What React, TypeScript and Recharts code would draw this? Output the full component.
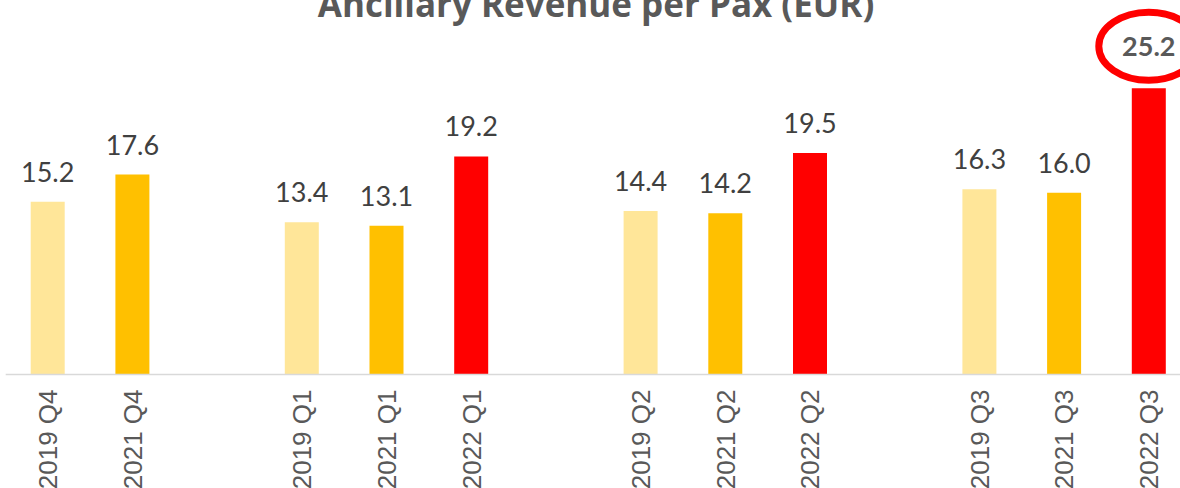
import React from 'react';
import { BarChart, Bar, XAxis, YAxis, Cell, LabelList } from 'recharts';

// blank slots are the gaps between quarter groups
const periods = [
  '2019 Q4', '2021 Q4', '',
  '2019 Q1', '2021 Q1', '2022 Q1', '',
  '2019 Q2', '2021 Q2', '2022 Q2', '',
  '2019 Q3', '2021 Q3', '2022 Q3',
];
const revenue = [
  15.2, 17.6, null,
  13.4, 13.1, 19.2, null,
  14.4, 14.2, 19.5, null,
  16.3, 16.0, 25.2,
];
const highlighted = '2022 Q3';

const yearColors: Record<string, string> = {
  '2019': '#FFE699',
  '2021': '#FFC000',
  '2022': '#FF0000',
};

const data = periods.map((p, i) => ({
  id: `s${i}`,
  period: p,
  value: revenue[i],
  circled: p === highlighted,
}));

const PeriodTick = (props: any) => {
  const { x, y, payload } = props;
  const label = periods[payload.index] ?? '';
  const ty = y + 15;
  return (
    <text
      x={x}
      y={ty}
      transform={`rotate(-90, ${x}, ${ty})`}
      textAnchor="end"
      dominantBaseline="central"
      fontFamily="'Liberation Sans', Arial, sans-serif"
      fontSize={26}
      fill="#595959"
    >
      {label}
    </text>
  );
};

const ValueLabel = (props: any) => {
  const { x, y, width, value } = props;
  if (value == null) return null;
  const cx = x + width / 2;
  const i = data.findIndex((d) => d.value === value);
  if (data[i] && data[i].circled) {
    return (
      <g>
        <ellipse cx={cx} cy={y - 42} rx={50} ry={34} fill="none" stroke="#FF0000" strokeWidth={7} />
        <text
          x={cx}
          y={y - 32}
          textAnchor="middle"
          fontFamily="Lato, 'Open Sans', sans-serif"
          fontWeight="bold"
          fontSize={27}
          fill="#595959"
        >
          {value.toFixed(1)}
        </text>
      </g>
    );
  }
  return (
    <text
      x={cx}
      y={y - 20}
      textAnchor="middle"
      fontFamily="Lato, 'Open Sans', sans-serif"
      fontSize={27}
      fill="#404040"
    >
      {value.toFixed(1)}
    </text>
  );
};

export default function App() {
  return (
    <div style={{ position: 'absolute', left: 0, top: 0, width: 1180, height: 488, overflow: 'hidden', background: '#fff' }}>
      <BarChart
        width={1200}
        height={488}
        data={data}
        margin={{ top: 33.7, right: 8.5, left: 5.7, bottom: 13.5 }}
        barCategoryGap={0}
      >
        <text
          x={596}
          y={17}
          textAnchor="middle"
          fontFamily="'Open Sans', sans-serif"
          fontWeight="bold"
          fontSize={35}
          fill="#595959"
        >
          Ancillary Revenue per Pax (EUR)
        </text>
        <XAxis
          dataKey="id"
          height={100}
          tick={<PeriodTick />}
          tickLine={false}
          tickSize={0}
          tickMargin={0}
          interval={0}
          axisLine={{ stroke: '#D9D9D9', strokeWidth: 1.5 }}
        />
        <YAxis hide domain={[0, 30]} />
        <Bar dataKey="value" barSize={34} isAnimationActive={false}>
          {data.map((d) => (
            <Cell key={d.id} fill={yearColors[d.period.slice(0, 4)] ?? '#FFFFFF'} />
          ))}
          <LabelList dataKey="value" content={<ValueLabel />} />
        </Bar>
      </BarChart>
    </div>
  );
}
